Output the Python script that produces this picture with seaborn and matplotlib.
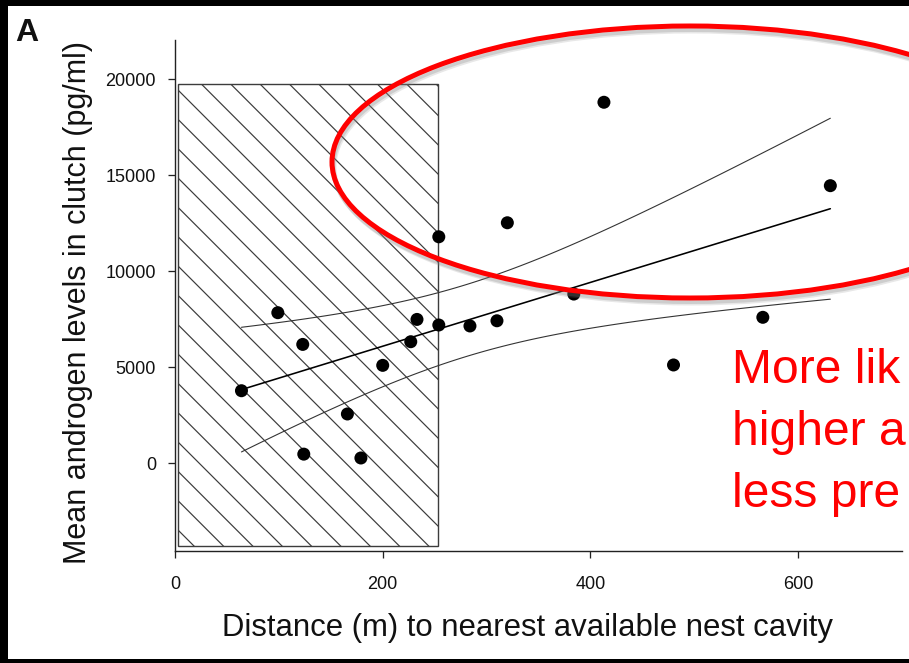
import numpy as np
import pandas as pd
import seaborn as sns
import matplotlib.pyplot as plt
from matplotlib.patches import Rectangle, Ellipse

# Valores
dist_m = [64, 99, 123, 124, 166, 179, 200, 227, 233, 254, 254, 284, 310, 320, 384, 413, 480, 566, 631]
androgen = [3780, 7840, 6190, 480, 2570, 280, 5100, 6330, 7490, 7200, 11790, 7150, 7420, 12520, 8810, 18790, 5120, 7600, 14450]

x_ticks = [0, 200, 400, 600]
y_ticks = [0, 5000, 10000, 15000, 20000]
zona_x = [3, 253]          # zona rayada (m)
zona_y = [-4300, 19750]
notas = ['More lik', 'higher a', 'less pre']

DPI = 88
W, H = 909, 663
PT = 72 / DPI  # px -> pt


def fx(px):
    return px / W


def fy(py):
    return 1 - py / H


sns.set_style('ticks')
plt.rcParams['font.family'] = ['Liberation Sans', 'DejaVu Sans']
plt.rcParams['hatch.linewidth'] = 1.2 * PT

fig = plt.figure(figsize=(W / DPI, H / DPI), dpi=DPI)
ax = fig.add_axes([fx(175), fy(551), (902 - 175) / W, (551 - 40) / H])

# zona rayada
ax.add_patch(Rectangle((zona_x[0], zona_y[0]), zona_x[1] - zona_x[0], zona_y[1] - zona_y[0],
                       fill=False, hatch='\\', edgecolor='#3c3c3c', lw=1.4 * PT, zorder=1))

df = pd.DataFrame({'dist': dist_m, 'andro': androgen})
sns.regplot(data=df, x='dist', y='andro', ci=None, ax=ax,
            scatter_kws=dict(s=(13 * PT) ** 2, color='black', edgecolor='none', linewidths=0, alpha=1, zorder=4),
            line_kws=dict(color='black', lw=1.6 * PT, zorder=3))

# bandas de confianza 95% de la recta (OLS)
x = np.array(dist_m, dtype=float)
y = np.array(androgen, dtype=float)
b, a = np.polyfit(x, y, 1)
n = len(x)
s = np.sqrt(np.sum((y - (a + b * x)) ** 2) / (n - 2))
t = 2.110  # t(0.975, df=17)
grid = np.linspace(x.min(), x.max(), 100)
se = s * np.sqrt(1 / n + (grid - x.mean()) ** 2 / np.sum((x - x.mean()) ** 2))
for yy in (a + b * grid + t * se, a + b * grid - t * se):
    sns.lineplot(x=grid, y=yy, ax=ax, color='#333333', lw=1.1 * PT, estimator=None, zorder=3)

ax.set_xlim(0, 700)
ax.set_ylim(-4560, 22030)
ax.set_xticks(x_ticks)
ax.set_yticks(y_ticks)
ax.set(xlabel='', ylabel='')
sns.despine(ax=ax)
for sp in ('left', 'bottom'):
    ax.spines[sp].set_color('#222222')
    ax.spines[sp].set_linewidth(1.4 * PT)
ax.tick_params(direction='out', length=7 * PT, width=1.3 * PT, color='#222222',
               labelsize=18 * PT, labelcolor='#111111')
ax.tick_params(axis='y', pad=12 * PT)
ax.tick_params(axis='x', pad=18 * PT)

fig.text(fx(78), fy(303), 'Mean androgen levels in clutch (pg/ml)', rotation=90,
         ha='center', va='center', fontsize=30.5 * PT, color='#111111')
fig.text(fx(527), fy(636), 'Distance (m) to nearest available nest cavity',
         ha='center', va='baseline', fontsize=31.2 * PT, color='#111111')
fig.text(fx(15), fy(41), 'A', ha='left', va='baseline', fontsize=32 * PT,
         fontweight='bold', color='#111111')

# óvalo rojo con sombra
for dx, dy, al in [(2, 5, 0.18), (1, 3.5, 0.25)]:
    fig.add_artist(Ellipse((fx(690 + dx), fy(162 + dy)), 716 / W, 272 / H, transform=fig.transFigure,
                           fill=False, edgecolor='#808080', alpha=al, lw=5 * PT, zorder=5))
fig.add_artist(Ellipse((fx(690), fy(162)), 716 / W, 272 / H, transform=fig.transFigure,
                       fill=False, edgecolor='#ff0000', lw=5 * PT, zorder=6))

for i, txt in enumerate(notas):
    fig.text(fx(732), fy(383 + 62 * i), txt, ha='left', va='baseline',
             fontsize=48 * PT, color='#ff0000', zorder=7)

# marco negro
for r in [(0, 0, fx(8), 1), (0, fy(6), 1, 6 / H), (0, 0, 1, 4 / H)]:
    fig.add_artist(Rectangle(r[:2], r[2], r[3], transform=fig.transFigure,
                             color='black', lw=0, zorder=10))

fig.savefig('out.png', dpi=DPI)
